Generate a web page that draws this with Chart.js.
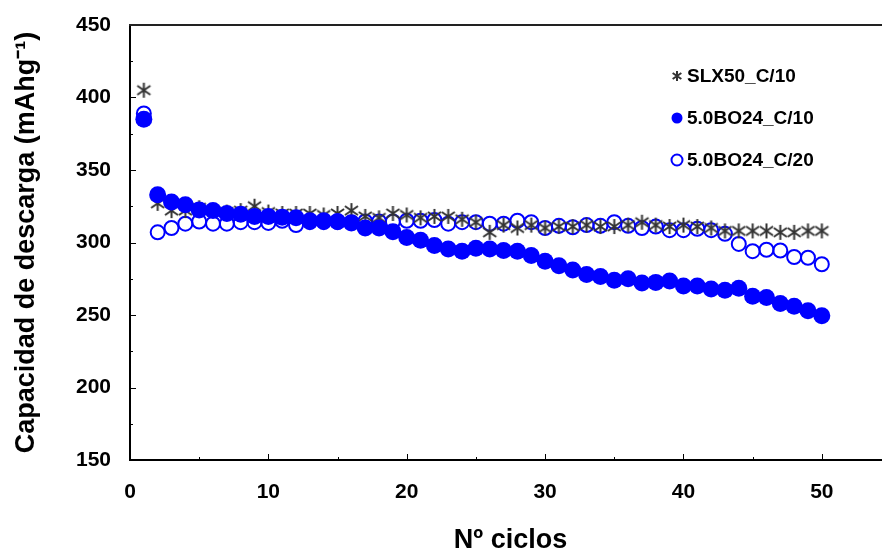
<!DOCTYPE html>
<html>
<head>
<meta charset="utf-8">
<script src="https://cdn.jsdelivr.net/npm/chart.js@4.4.1/dist/chart.umd.min.js"></script>
<style>
    html, body { margin: 0; padding: 0; background: #fff; overflow: hidden; }
    #wrap { width: 900px; height: 551px; }
</style>
</head>
<body>
<div id="wrap"><canvas id="ciclosChart" width="900" height="551"></canvas></div>
<script>
// Nº de ciclo
var ciclos = [1, 2, 3, 4, 5, 6, 7, 8, 9, 10, 11, 12, 13, 14, 15, 16, 17, 18, 19, 20,
    21, 22, 23, 24, 25, 26, 27, 28, 29, 30, 31, 32, 33, 34, 35, 36, 37, 38, 39, 40,
    41, 42, 43, 44, 45, 46, 47, 48, 49, 50];

// Capacidad de descarga (mAh/g)
var slx50C10 = [405, 327, 322, 322, 324, 322, 321, 322, 325, 321, 320, 320, 320, 319, 320, 322, 318, 317, 320, 319,
    317, 318, 318, 316, 314, 307, 312, 310, 312, 310, 311, 311, 312, 311, 311, 312, 314, 312, 311, 312,
    311, 310, 308, 308, 308, 308, 307, 307, 308, 308];
var bo24C10 = [385, 333, 328, 326, 322.5, 322, 320, 319.5, 318, 318, 317.5, 317, 315, 315, 314.5, 313.5, 310, 310, 307.5, 303.5,
    301.5, 298, 295.5, 294, 296, 295.5, 294.5, 294, 291, 287, 284, 281, 278, 276.5, 274, 275, 272, 272.5, 273.5, 270,
    270, 268, 267, 268.5, 263, 262, 258, 256, 253, 249.5];
var bo24C20 = [389, 307, 310, 313, 314.5, 313, 313, 314, 314, 313.5, 315, 312, 314, 314, 314, 314, 314.5, 314.5, 314.5, 315,
    315, 315.5, 313, 314, 314, 313, 313, 315, 314, 310, 311.5, 310.5, 312, 311.5, 314, 311.5, 310, 311, 308.5, 308.5,
    309.5, 308.5, 306, 299, 294, 295, 294.5, 290, 289.5, 285];

var series = ['SLX50_C/10', '5.0BO24_C/10', '5.0BO24_C/20'];
var yTicks = [150, 200, 250, 300, 350, 400, 450];
var xTicks = [0, 10, 20, 30, 40, 50];

var FONT = "'Liberation Sans', Arial, sans-serif";
var AZUL = '#0000ff';
var GRIS = '#333333';

// asterisco: línea vertical + aspa
function asterisco(size) {
    var c = document.createElement('canvas');
    c.width = size; c.height = size;
    var g = c.getContext('2d');
    var m = size / 2, r = size / 2 - 1;
    g.strokeStyle = GRIS;
    g.lineWidth = 2;
    g.beginPath();
    g.moveTo(m, m - r); g.lineTo(m, m + r);
    g.moveTo(m - r * 0.87, m - r * 0.6); g.lineTo(m + r * 0.87, m + r * 0.6);
    g.moveTo(m + r * 0.87, m - r * 0.6); g.lineTo(m - r * 0.87, m + r * 0.6);
    g.stroke();
    return c;
}
var estrella = asterisco(17);
var estrellaChica = asterisco(12);

function puntos(arr) {
    return ciclos.map(function (c, i) { return { x: c, y: arr[i] }; });
}

// Marco superior y marcas de los ejes hacia dentro
var marcas = {
    id: 'marcas',
    afterDatasetsDraw: function (chart) {
        var ctx = chart.ctx, a = chart.chartArea;
        var sx = chart.scales.x, sy = chart.scales.y;
        ctx.save();
        ctx.strokeStyle = '#000';
        ctx.lineWidth = 1;
        ctx.beginPath();
        for (var v = 150; v <= 450; v += 25) {
            var y = Math.round(sy.getPixelForValue(v)) + 0.5;
            var len = (v % 50 === 0) ? 6 : 3;
            ctx.moveTo(a.left, y); ctx.lineTo(a.left + len, y);
        }
        for (var n = 5; n <= 55; n += 5) {
            var x = Math.round(sx.getPixelForValue(n)) + 0.5;
            var l2 = (n % 10 === 0) ? 6 : 3;
            ctx.moveTo(x, a.bottom); ctx.lineTo(x, a.bottom - l2);
        }
        ctx.stroke();
        ctx.strokeStyle = '#222';
        ctx.lineWidth = 2;
        ctx.beginPath();
        ctx.moveTo(a.left - 1, a.top); ctx.lineTo(a.right, a.top);
        ctx.stroke();
        ctx.restore();
    }
};

// Leyenda dentro del área del gráfico
var leyenda = {
    id: 'leyenda',
    afterDraw: function (chart) {
        var ctx = chart.ctx;
        var x0 = 677, tx = 687, filas = [76, 118, 160];
        ctx.save();
        ctx.font = 'bold 19px ' + FONT;
        ctx.fillStyle = '#000';
        ctx.textBaseline = 'middle';
        series.forEach(function (s, i) {
            var y = filas[i];
            if (i === 0) {
                ctx.drawImage(estrellaChica, x0 - 6, y - 6);
            } else {
                ctx.beginPath();
                ctx.arc(x0, y, 5.5, 0, Math.PI * 2);
                if (i === 1) { ctx.fillStyle = AZUL; ctx.fill(); }
                else { ctx.strokeStyle = AZUL; ctx.lineWidth = 2; ctx.stroke(); }
            }
            ctx.fillStyle = '#000';
            ctx.fillText(s, tx, y + 1);
        });
        ctx.restore();
    }
};

var ctx = document.getElementById('ciclosChart').getContext('2d');
var chart = new Chart(ctx, {
    type: 'scatter',
    data: {
        datasets: [{
            label: series[0],
            data: puntos(slx50C10),
            pointStyle: estrella,
            order: 2
        }, {
            label: series[1],
            data: puntos(bo24C10),
            pointStyle: 'circle',
            pointRadius: 8.5,
            backgroundColor: AZUL,
            borderColor: AZUL,
            borderWidth: 0,
            order: 1
        }, {
            label: series[2],
            data: puntos(bo24C20),
            pointStyle: 'circle',
            pointRadius: 7,
            backgroundColor: 'rgba(255,255,255,0)',
            borderColor: AZUL,
            borderWidth: 2,
            order: 3
        }]
    },
    options: {
        responsive: false,
        animation: false,
        devicePixelRatio: 1,
        layout: { padding: { top: 25, right: 6, left: 0, bottom: 0 } },
        plugins: {
            legend: { display: false },
            tooltip: { enabled: false }
        },
        scales: {
            x: {
                type: 'linear',
                min: 0,
                max: 55,
                afterFit: function (s) {
                    s.height = 91;
                    s.paddingLeft = 0; s.paddingRight = 0;
                },
                afterBuildTicks: function (s) {
                    s.ticks = xTicks.map(function (v) { return { value: v }; });
                },
                ticks: {
                    font: { family: FONT, size: 21, weight: 'bold' },
                    color: '#000',
                    padding: 20,
                    maxRotation: 0,
                    autoSkip: false
                },
                grid: { display: false, drawTicks: false },
                border: { display: true, color: '#000', width: 2 },
                title: {
                    display: true,
                    text: 'Nº ciclos',
                    font: { family: FONT, size: 27, weight: 'bold', lineHeight: 1 },
                    color: '#000',
                    padding: { top: 0, bottom: -3 }
                }
            },
            y: {
                min: 150,
                max: 450,
                afterFit: function (s) {
                    s.width = 130;
                    s.paddingTop = 0; s.paddingBottom = 0;
                },
                afterBuildTicks: function (s) {
                    s.ticks = yTicks.map(function (v) { return { value: v }; });
                },
                ticks: {
                    font: { family: FONT, size: 21, weight: 'bold' },
                    color: '#000',
                    padding: 19
                },
                grid: { display: false, drawTicks: false },
                border: { display: true, color: '#000', width: 2 },
                title: {
                    display: true,
                    text: 'Capacidad de descarga (mAhg⁻¹)',
                    font: { family: FONT, size: 27, weight: 'bold', lineHeight: 1 },
                    color: '#000',
                    padding: { top: 13, bottom: 0 }
                }
            }
        }
    },
    plugins: [marcas, leyenda]
});
</script>
</body>
</html>
